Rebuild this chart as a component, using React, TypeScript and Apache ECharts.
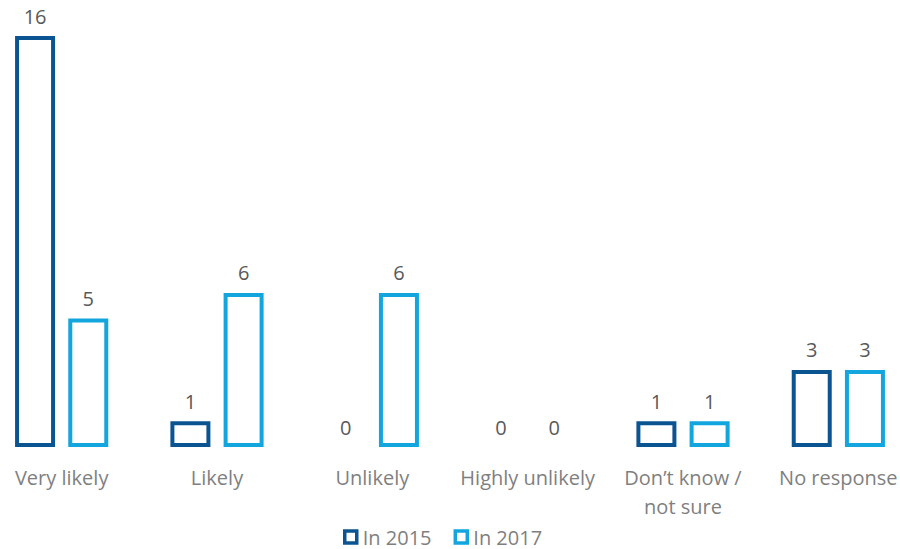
import React, { useEffect, useRef } from "react";
import * as echarts from "echarts";

const categories = ["Very likely", "Likely", "Unlikely", "Highly unlikely", "Don’t know /\nnot sure", "No response"];
const in2015 = [16, 1, 0, 0, 1, 3];
const in2017 = [5, 6, 6, 0, 1, 3];
const seriesNames = ["In 2015", "In 2017"];
const colors = ["#0A5591", "#12A5DE"];

const FONT = "'Open Sans', Lato, sans-serif";
const SHIFT = 16;

function mkData(vals: number[]) {
  return vals.map((v) => (v === 0 ? { value: v, itemStyle: { borderWidth: 0, color: "rgba(0,0,0,0)" } } : { value: v }));
}

export default function App() {
  const ref = useRef<HTMLDivElement>(null);
  useEffect(() => {
    if (!ref.current) return;
    const chart = echarts.init(ref.current, undefined, { renderer: "svg" });
    const mkSeries = (name: string, vals: number[], color: string) => ({
      name,
      type: "bar",
      data: mkData(vals),
      barWidth: 40,
      barGap: "33%",
      itemStyle: { color: "#ffffff", borderColor: color, borderWidth: 4 },
      label: {
        show: true,
        position: "top",
        distance: 10,
        color: "#595959",
        fontSize: 20,
        fontFamily: FONT,
      },
    });
    chart.setOption({
      animation: false,
      backgroundColor: "#ffffff",
      grid: { left: 0, right: 0, top: 36, bottom: 102, containLabel: false },
      legend: {
        left: 338 + SHIFT,
        top: 522,
        itemWidth: 12,
        itemHeight: 12,
        itemGap: 22,
        icon: "rect",
        itemStyle: { borderWidth: 3.5 },
        textStyle: { color: "#7F7F7F", fontSize: 20, fontFamily: FONT, padding: [0, 0, 0, 1] },
        data: seriesNames,
      },
      xAxis: {
        type: "category",
        data: categories,
        axisLine: { show: false },
        axisTick: { show: false },
        axisLabel: {
          color: "#7F7F7F",
          fontSize: 20,
          fontFamily: FONT,
          margin: 16,
          lineHeight: 29,
          interval: 0,
        },
      },
      yAxis: { type: "value", min: 0, max: 16, show: false, splitLine: { show: false } },
      series: [mkSeries(seriesNames[0], in2015, colors[0]), mkSeries(seriesNames[1], in2017, colors[1])],
    });
    return () => chart.dispose();
  }, []);
  return (
    <div style={{ width: 900, height: 549, position: "absolute", left: 0, top: 0, overflow: "hidden", background: "#fff" }}>
      <div ref={ref} style={{ width: 900 + 2 * SHIFT, height: 549, position: "absolute", left: -SHIFT, top: 0 }} />
    </div>
  );
}
